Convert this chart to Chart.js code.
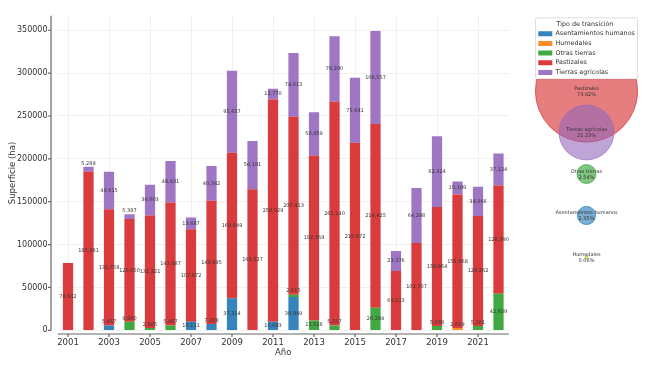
<!DOCTYPE html>
<html>
<head>
<meta charset="utf-8">
<script src="https://cdn.jsdelivr.net/npm/chart.js@4.4.1/dist/chart.umd.min.js"></script>
<style>
  html, body { margin: 0; padding: 0; background: #fff; }
  #wrap { position: relative; width: 652px; height: 369px; overflow: hidden; }
  #bars { position: absolute; left: 0; top: 0; }
  #shares { position: absolute; left: 535px; top: 0; }
</style>
</head>
<body>
<div id="wrap">
  <canvas id="bars" width="535" height="369"></canvas>
  <canvas id="shares" width="103" height="369"></canvas>
</div>
<script>
// values (ha per year and transition type)
const years = [2001, 2002, 2003, 2004, 2005, 2006, 2007, 2008, 2009, 2010, 2011,
               2012, 2013, 2014, 2015, 2016, 2017, 2018, 2019, 2020, 2021, 2022];
const categories = ['Asentamientos humanos', 'Humedales', 'Otras tierras', 'Pastizales', 'Tierras agrícolas'];

const asentamientos = [0, 0, 5467, 0, 0, 0, 10111, 7208, 37314, 0, 10083,
                       38949, 0, 0, 0, 0, 0, 0, 0, 0, 0, 0];
const humedales = [0, 0, 0, 0, 0, 0, 0, 0, 0, 0, 0,
                   0, 0, 0, 0, 0, 0, 0, 0, 2609, 0, 0];
const otrasTierras = [0, 0, 0, 9900, 2585, 5467, 0, 0, 0, 0, 0,
                      2615, 11526, 5557, 0, 26284, 0, 0, 5038, 0, 5101, 42659];
const pastizales = [78612, 185381, 135758, 120050, 131321, 143487, 107872, 143995, 169849, 164527, 259029,
                    207413, 192369, 261140, 218872, 214425, 69113, 101707, 138864, 155668, 128262, 126390];
const tierrasAgricolas = [0, 5289, 43615, 5387, 36003, 48431, 13687, 40342, 95657, 56191, 12770,
                          74613, 50459, 76290, 75641, 108557, 23376, 64298, 82324, 15199, 34066, 37124];

// share of total area per type, as printed in the bubbles (%)
const sharePct = [2.35, 0.06, 2.54, 73.82, 21.23];

const yTicks = [0, 50000, 100000, 150000, 200000, 250000, 300000, 350000];

const series = [asentamientos, humedales, otrasTierras, pastizales, tierrasAgricolas];
const tabColors = ['#1f77b4', '#ff7f0e', '#2ca02c', '#d62728', '#9467bd'];
const bubbleColors = ['#1f77b4', '#bcbd22', '#2ca02c', '#d62728', '#9467bd'];
const FONT = 'DejaVu Sans';
const TEXT = '#333';

function withAlpha(hex, a) {
    const n = parseInt(hex.slice(1), 16);
    return `rgba(${n >> 16},${(n >> 8) & 255},${n & 255},${a})`;
}
const fmt = v => v.toLocaleString('en-US');

// offset spines + tick marks, like the seaborn-style axes
const spines = {
    id: 'spines',
    afterDraw(chart) {
        const {ctx, chartArea: a, scales: {x, y}} = chart;
        const leftX = a.left - 6.75;
        const baseY = a.bottom + 3.7;
        ctx.save();
        ctx.strokeStyle = '#666';
        ctx.lineWidth = 1.2;
        ctx.beginPath();
        ctx.moveTo(leftX, a.top);
        ctx.lineTo(leftX, a.bottom);
        ctx.moveTo(a.left, baseY);
        ctx.lineTo(a.right, baseY);
        y.ticks.forEach(t => {
            const py = y.getPixelForValue(t.value);
            ctx.moveTo(leftX - 3, py);
            ctx.lineTo(leftX, py);
        });
        x.ticks.forEach((t, i) => {
            if (i % 2) return;
            const px = x.getPixelForTick(i);
            ctx.moveTo(px, baseY);
            ctx.lineTo(px, baseY + 3);
        });
        ctx.stroke();
        ctx.restore();
    }
};

const segmentLabels = {
    id: 'segmentLabels',
    afterDatasetsDraw(chart) {
        const {ctx} = chart;
        ctx.save();
        ctx.font = `5px "${FONT}"`;
        ctx.fillStyle = TEXT;
        ctx.textAlign = 'center';
        chart.data.datasets.forEach((ds, i) => {
            chart.getDatasetMeta(i).data.forEach((bar, j) => {
                const v = ds.data[j];
                if (!v) return;
                if (v >= 10000) {
                    ctx.textBaseline = 'middle';
                    ctx.fillText(fmt(v), bar.x, (bar.y + bar.base) / 2);
                } else {
                    ctx.textBaseline = 'bottom';
                    ctx.fillText(fmt(v), bar.x, bar.y - 1);
                }
            });
        });
        ctx.restore();
    }
};

new Chart(document.getElementById('bars'), {
    type: 'bar',
    data: {
        labels: years.map(String),
        datasets: categories.map((name, i) => ({
            label: name,
            data: series[i],
            backgroundColor: withAlpha(tabColors[i], 0.9),
            borderWidth: 0,
            barPercentage: 0.5,
            categoryPercentage: 1
        }))
    },
    options: {
        responsive: false,
        animation: false,
        devicePixelRatio: 1,
        layout: { padding: { top: 15.7, right: 26.25, bottom: 0, left: 0 } },
        plugins: { legend: { display: false }, tooltip: { enabled: false } },
        scales: {
            x: {
                stacked: true,
                offset: true,
                grid: {
                    offset: false,
                    drawTicks: false,
                    lineWidth: 0.8,
                    color: c => c.index % 2 === 0 ? '#ececec' : 'rgba(0,0,0,0)'
                },
                border: { display: false },
                ticks: {
                    autoSkip: false,
                    maxRotation: 0,
                    padding: 7.5,
                    color: TEXT,
                    font: { family: FONT, size: 8.5 },
                    callback: (v, i) => i % 2 === 0 ? String(years[i]) : ''
                },
                title: {
                    display: true, text: 'Año', color: TEXT,
                    font: { family: FONT, size: 8.5 },
                    padding: { top: 0, bottom: 11.6 }
                },
                afterFit: s => { s.height = 38.7; }
            },
            y: {
                stacked: true,
                min: 0,
                max: 367000,
                afterBuildTicks: s => { s.ticks = yTicks.map(v => ({ value: v })); },
                grid: { drawTicks: false, color: '#ececec', lineWidth: 0.8 },
                border: { display: false },
                ticks: {
                    padding: 10.25,
                    color: TEXT,
                    font: { family: FONT, size: 8 },
                    callback: v => String(v)
                },
                title: {
                    display: true, text: 'Superficie (ha)', color: TEXT,
                    font: { family: FONT, size: 8.5 },
                    padding: { top: 7.2, bottom: 0 }
                },
                afterFit: s => { s.width = 57.75; }
            }
        }
    },
    plugins: [spines, segmentLabels]
});

// bubbles: stacked top to bottom by share rank
const order = sharePct.map((p, i) => i).sort((a, b) => sharePct[b] - sharePct[a]);
const rankOf = [];
order.forEach((idx, r) => { rankOf[idx] = r; });

const legendFrame = {
    id: 'legendFrame',
    beforeDraw(chart) {
        const lg = chart.legend;
        const {ctx} = chart;
        const top = lg.top + 2;
        const bottom = lg.bottom - 6.7;
        ctx.save();
        ctx.fillStyle = 'rgba(255,255,255,0.85)';
        ctx.strokeStyle = '#d6d6d6';
        ctx.lineWidth = 0.8;
        ctx.beginPath();
        ctx.roundRect(lg.left + 0.5, top, lg.right - lg.left - 1, bottom - top, 2);
        ctx.fill();
        ctx.stroke();
        ctx.restore();
    }
};

const bubbleLabels = {
    id: 'bubbleLabels',
    afterDatasetsDraw(chart) {
        const {ctx} = chart;
        ctx.save();
        ctx.font = `5px "${FONT}"`;
        ctx.fillStyle = TEXT;
        ctx.textAlign = 'center';
        ctx.textBaseline = 'middle';
        chart.data.datasets.forEach((ds, i) => {
            const pt = chart.getDatasetMeta(i).data[0];
            ctx.fillText(categories[i], pt.x, pt.y - 2.5);
            ctx.fillText(sharePct[i].toFixed(2) + '%', pt.x, pt.y + 3.5);
        });
        ctx.restore();
    }
};

new Chart(document.getElementById('shares'), {
    type: 'bubble',
    data: {
        datasets: categories.map((name, i) => ({
            label: name,
            data: [{ x: 0, y: rankOf[i], r: 5.95 * Math.sqrt(sharePct[i]) }],
            backgroundColor: withAlpha(bubbleColors[i], 0.6),
            borderColor: withAlpha(bubbleColors[i], 0.8),
            borderWidth: 0.8,
            order: -rankOf[i],
            clip: { left: 5, top: 6.7, right: 5, bottom: 5 }
        }))
    },
    options: {
        responsive: false,
        animation: false,
        devicePixelRatio: 1,
        layout: { autoPadding: false, padding: { top: 15.8, right: 0, bottom: 0, left: 0 } },
        plugins: {
            tooltip: { enabled: false },
            legend: {
                position: 'top',
                align: 'start',
                title: {
                    display: true, text: 'Tipo de transición', color: TEXT,
                    font: { family: FONT, size: 6.4, lineHeight: 1 },
                    padding: { top: 5, bottom: 0 }
                },
                labels: {
                    boxWidth: 14,
                    boxHeight: 5,
                    padding: 3.3,
                    color: TEXT,
                    font: { family: FONT, size: 6.4 },
                    generateLabels: () => categories.map((name, i) => ({
                        text: name,
                        fillStyle: withAlpha(tabColors[i], 0.9),
                        strokeStyle: withAlpha(tabColors[i], 0.9),
                        lineWidth: 0,
                        hidden: false,
                        datasetIndex: i
                    }))
                }
            }
        },
        scales: {
            x: { display: false, min: -1, max: 1 },
            y: { display: false, reverse: true, min: -0.128, max: 6.70 }
        }
    },
    plugins: [legendFrame, bubbleLabels]
});
</script>
</body>
</html>
